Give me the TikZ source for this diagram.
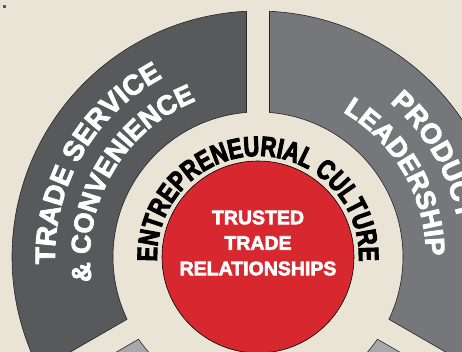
\documentclass[tikz,border=0pt]{standalone}
\usepackage{fontspec}
\setmainfont{Liberation Sans}
\newfontfamily\ringfont{Liberation Sans}[UprightFont=* Bold, FakeBold=3]
\newfontfamily\culturefont{Liberation Sans}[UprightFont=* Bold, FakeBold=3.5, FakeStretch=0.78]
\usetikzlibrary{decorations.text}

\definecolor{paper}{HTML}{E9E4D6}
\definecolor{darkseg}{HTML}{58595B}
\definecolor{midseg}{HTML}{76777B}
\definecolor{lightseg}{HTML}{A7A8AC}
\definecolor{trustred}{HTML}{D7282F}

\tikzset{
	segment/.style={draw=black!85, line width=0.6pt},
	ringtext/.style={decorate, decoration={text along path, text align=center, text color=#1, text format delimiters={|}{|}}},
}

\begin{document}
\begin{tikzpicture}
	\useasboundingbox (-258pt,-95pt) rectangle (204pt,257pt);
	\clip (-258pt,-95pt) rectangle (204pt,257pt);
	\fill[paper] (-258pt,-95pt) rectangle (204pt,257pt);
	\fill[darkseg] (-255pt,249pt) rectangle (-252pt,252pt);

	% outer ring, gaps of 23pt between the parts
	\path[segment, fill=darkseg] (92.68:246pt) arc[start angle=92.68, end angle=207.32, radius=246pt] -- (205.45:145pt) arc[start angle=205.45, end angle=94.55, radius=145pt] -- cycle;
	\path[segment, fill=midseg] (-27.32:246pt) arc[start angle=-27.32, end angle=87.32, radius=246pt] -- (85.45:145pt) arc[start angle=85.45, end angle=-25.45, radius=145pt] -- cycle;
	\path[segment, fill=lightseg] (212.68:246pt) arc[start angle=212.68, end angle=267.32, radius=246pt] -- (265.45:145pt) arc[start angle=265.45, end angle=214.55, radius=145pt] -- cycle;
	\path[segment, fill=lightseg] (272.68:246pt) arc[start angle=272.68, end angle=327.32, radius=246pt] -- (325.45:145pt) arc[start angle=325.45, end angle=274.55, radius=145pt] -- cycle;

	% ring labels
	\path[ringtext=white, decoration={text={|\ringfont\fontsize{28}{28}\selectfont|TRADE SERVICE}}] (200:203pt) arc[start angle=200, end angle=100, radius=203pt];
	\path[ringtext=white, decoration={text={|\ringfont\fontsize{27}{27}\selectfont|{\&} CONVENIENCE}}] (200:168pt) arc[start angle=200, end angle=100, radius=168pt];
	\path[ringtext=white, decoration={text={|\ringfont\fontsize{28}{28}\selectfont|PRODUCT}}] (80:203pt) arc[start angle=80, end angle=-20, radius=203pt];
	\path[ringtext=white, decoration={text={|\ringfont\fontsize{27}{27}\selectfont|LEADERSHIP}}] (80:168pt) arc[start angle=80, end angle=-20, radius=168pt];
	\path[ringtext=black, decoration={text={|\culturefont\fontsize{28}{28}\selectfont|ENTREPRENEURIAL CULTURE}}] (195:101pt) arc[start angle=195, end angle=-15, radius=101pt];

	% centre
	\node[circle, fill=trustred, draw=black, line width=0.6pt, minimum size=192pt, inner sep=0pt] (core) at (0,0) {};
	\node[font=\ringfont\fontsize{19.5}{25.5}\selectfont, text=white, align=center] (trust) at (0pt,14pt) {TRUSTED\\TRADE\\RELATIONSHIPS};
\end{tikzpicture}
\end{document}
